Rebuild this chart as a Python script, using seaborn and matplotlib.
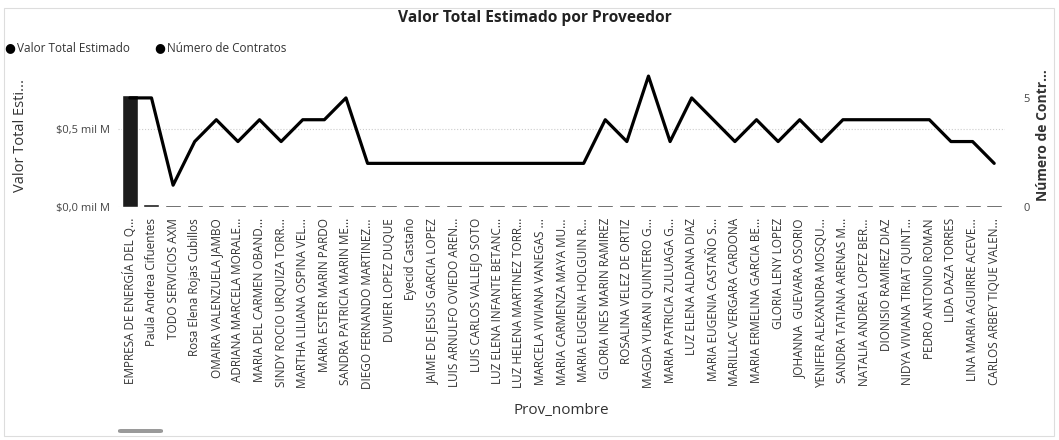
import matplotlib
matplotlib.use('Agg')
import matplotlib.pyplot as plt
import seaborn as sns
from matplotlib.patches import FancyBboxPatch, Rectangle

# datos
proveedores = [
    'EMPRESA DE ENERGÍA DEL Q...', 'Paula Andrea Cifuentes', 'TODO SERVICIOS AXM',
    'Rosa Elena Rojas Cubillos', 'OMAIRA VALENZUELA JAMBO', 'ADRIANA MARCELA MORALE...',
    'MARIA DEL CARMEN OBAND...', 'SINDY ROCIO URQUIZA TORR...', 'MARTHA LILIANA OSPINA VEL...',
    'MARIA ESTER MARIN PARDO', 'SANDRA PATRICIA MARIN ME...', 'DIEGO FERNANDO MARTINEZ...',
    'DUVIER LOPEZ DUQUE', 'Eyecid Castaño', 'JAIME DE JESUS GARCIA LOPEZ',
    'LUIS ARNULFO OVIEDO AREN...', 'LUIS CARLOS VALLEJO SOTO', 'LUZ ELENA INFANTE BETANC...',
    'LUZ HELENA MARTINEZ TORR...', 'MARCELA VIVIANA VANEGAS ...', 'MARIA CARMENZA MAYA MU...',
    'MARIA EUGENIA HOLGUIN R...', 'GLORIA INES MARIN RAMIREZ', 'ROSALINA VELEZ DE ORTIZ',
    'MAGDA YURANI QUINTERO G...', 'MARIA PATRICIA ZULUAGA G...', 'LUZ ELENA ALDANA DIAZ',
    'MARIA EUGENIA CASTAÑO S...', 'MARILLAC VERGARA CARDONA', 'MARIA ERMELINA GARCIA BE...',
    'GLORIA LENY LOPEZ', 'JOHANNA  GUEVARA OSORIO', 'YENIFER ALEXANDRA MOSQU...',
    'SANDRA TATIANA ARENAS M...', 'NATALIA ANDREA LOPEZ BER...', 'DIONISIO RAMIREZ DIAZ',
    'NIDYA VIVIANA TIRIAT QUINT...', 'PEDRO ANTONIO ROMAN', 'LIDA DAZA TORRES',
    'LINA MARIA AGUIRRE ACEVE...', 'CARLOS ARBEY TIQUE VALEN...',
]

# valor total estimado (miles de millones)
valor_total = [
    0.72, 0.02, 0.014, 0.013, 0.012, 0.012, 0.012, 0.012, 0.011, 0.011,
    0.011, 0.011, 0.011, 0.011, 0.011, 0.011, 0.011, 0.011, 0.011, 0.011,
    0.011, 0.011, 0.011, 0.011, 0.011, 0.011, 0.011, 0.011, 0.011, 0.011,
    0.011, 0.011, 0.011, 0.011, 0.011, 0.011, 0.011, 0.011, 0.011, 0.011, 0.011,
]

num_contratos = [
    5, 5, 1, 3, 4, 3, 4, 3, 4, 4,
    5, 2, 2, 2, 2, 2, 2, 2, 2, 2,
    2, 2, 4, 3, 6, 3, 5, 4, 3, 4,
    3, 4, 3, 4, 4, 4, 4, 4, 3, 3, 2,
]

sns.set_style('white')
plt.rcParams['font.family'] = ['Open Sans', 'DejaVu Sans']

fig = plt.figure(figsize=(10.59, 4.4), dpi=100)
ax = fig.add_axes([118 / 1059, 1 - 207 / 440, 887 / 1059, 144 / 440])

x = list(range(len(proveedores)))
sns.barplot(x=x, y=valor_total, color='#1c1c1c', width=0.74, saturation=1, ax=ax)
ax.set_ylim(0, 0.923)
ax.set_xlim(-0.55, len(proveedores) - 0.5)
ax.set_yticks([0, 0.5])
ax.set_yticklabels(['$0,0 mil M', '$0,5 mil M'], fontsize=8, color='#444444')
ax.yaxis.grid(True, linestyle=':', color='#cccccc', linewidth=0.8)
ax.set_axisbelow(True)
ax.set_xticks(x)
ax.set_xticklabels(proveedores, rotation=90, fontsize=8.5, color='#333333')
ax.tick_params(axis='x', length=0, pad=8)
ax.tick_params(axis='y', length=0, pad=6)
ax.set_xlabel('Prov_nombre', fontsize=11, color='#333333', labelpad=10)
ax.set_ylabel('Valor Total Esti...', fontsize=10.5, color='#333333', labelpad=20)
for s in ax.spines.values():
    s.set_visible(False)

ax2 = ax.twinx()
sns.lineplot(x=x, y=num_contratos, color='black', linewidth=2.3, sort=False, ax=ax2)
ax2.set_ylim(0, 6.6)
ax2.set_yticks([0, 5])
ax2.set_yticklabels(['0', '5'], fontsize=8, color='#444444')
ax2.tick_params(axis='y', length=0, pad=13)
ax2.set_ylabel('Número de Contr...', fontsize=10, fontweight='bold', color='#333333', labelpad=5)
for s in ax2.spines.values():
    s.set_visible(False)

# titulo y leyenda
fig.text(535 / 1059, 1 - 18 / 440, 'Valor Total Estimado por Proveedor', ha='center', va='center',
         fontsize=11.2, fontweight='bold', color='#222222')
fig.text(4 / 1059, 1 - 48 / 440, '●', ha='left', va='center', fontsize=9, color='black')
fig.text(17 / 1059, 1 - 48 / 440, 'Valor Total Estimado', ha='left', va='center', fontsize=8.5, color='#333333')
fig.text(154 / 1059, 1 - 48 / 440, '●', ha='left', va='center', fontsize=9, color='black')
fig.text(167 / 1059, 1 - 48 / 440, 'Número de Contratos', ha='left', va='center', fontsize=8.5, color='#333333')

# barra de desplazamiento y marco
fig.patches.append(FancyBboxPatch((118 / 1059, 1 - 433 / 440), 45 / 1059, 4 / 440,
                                  boxstyle='round,pad=0,rounding_size=0.003',
                                  transform=fig.transFigure, facecolor='#9a9a9a', edgecolor='none'))
fig.patches.append(Rectangle((4 / 1059, 1 - 436 / 440), 1050 / 1059, 428 / 440,
                             transform=fig.transFigure, fill=False, edgecolor='#dddddd', linewidth=0.8))

fig.savefig('out.png', dpi=100)
